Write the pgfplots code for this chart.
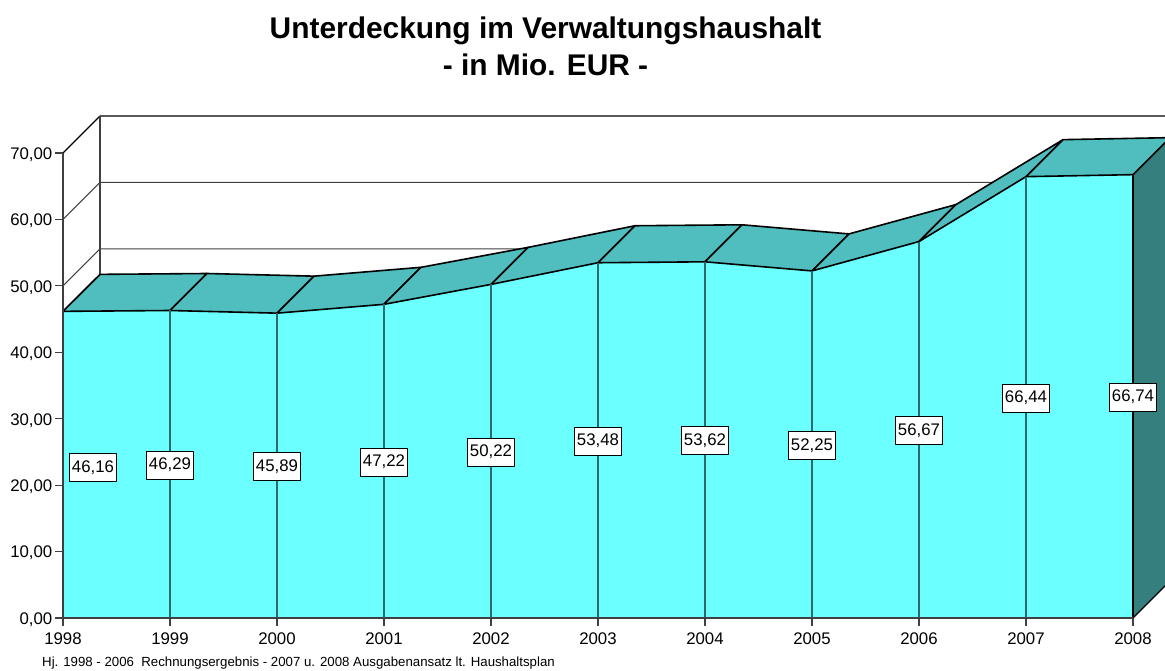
\documentclass[border=0pt]{standalone}
\usepackage{pgfplots}
\pgfplotsset{compat=1.18}
\usepackage{fontspec}
\setmainfont{Liberation Sans}
\definecolor{frontc}{HTML}{6CFFFF}
\definecolor{topc}{HTML}{50BEBE}
\definecolor{sidec}{HTML}{367F7F}
\definecolor{axc}{HTML}{404040}
\definecolor{yearc}{HTML}{2F6A6A}
\newcommand\lab{\fontsize{16.8}{18}\selectfont}
\begin{document}
\begin{tikzpicture}[x=1pt,y=1pt]
\useasboundingbox (0,0) rectangle (1165,671);
\begin{axis}[
  at={(63pt,53pt)},anchor=south west,
  scale only axis,width=1070pt,height=465pt,
  xmin=1998,xmax=2008,ymin=0,ymax=70,
  clip=false,axis on top=true,
  axis x line*=bottom,axis y line*=left,
  axis line style={-,draw=axc,line width=1.3pt},
  xtick={1998,1999,2000,2001,2002,2003,2004,2005,2006,2007,2008},
  xticklabels={1998,1999,2000,2001,2002,2003,2004,2005,2006,2007,2008},
  ytick={0,10,20,30,40,50,60,70},
  yticklabels={{0,00},{10,00},{20,00},{30,00},{40,00},{50,00},{60,00},{70,00}},
  tick align=outside,major tick length=8pt,
  tick style={draw=axc,line width=1.1pt},
  xticklabel style={font=\lab,inner sep=0pt,yshift=-6.5pt},
  yticklabel style={font=\lab,inner sep=0pt,xshift=-2.5pt,yshift=-1.5pt},
  every node near coord/.append style={anchor=center,font=\lab,fill=white,draw=black,line width=0.8pt,
     minimum width=46.5pt,minimum height=28pt,inner sep=0pt,text=black,yshift=-0.8pt},
]
% back wall
\addplot[draw=axc,line width=1.1pt] coordinates {(1998,50) (1998.346,55.57) (2008.346,55.57)};
\addplot[draw=axc,line width=1.1pt] coordinates {(1998,60) (1998.346,65.57) (2008.346,65.57)};
\addplot[draw=black,line width=1.2pt] coordinates {(1998,70) (1998.346,75.57) (2008.346,75.57)};
\addplot[draw=axc,line width=1.2pt] coordinates {(1998.346,5.57) (1998.346,75.57)};
% front
\addplot[fill=frontc,draw=none] coordinates {(1998,0) (1998,46.16) (1999,46.29) (2000,45.89) (2001,47.22) (2002,50.22) (2003,53.48) (2004,53.62) (2005,52.25) (2006,56.67) (2007,66.44) (2008,66.74) (2008,0)} --cycle;
% right side
\addplot[fill=sidec,draw=none] coordinates {(2008,0) (2008,66.74) (2008.346,72.31) (2008.346,5.57)} --cycle;
% top faces
\pgfplotsset{every axis plot post/.append style={line join=round}}
\addplot[fill=topc,draw=black,line width=1.6pt] coordinates {(1998,46.16) (1999,46.29) (1999.346,51.86) (1998.346,51.73)} --cycle;
\addplot[fill=topc,draw=black,line width=1.6pt] coordinates {(1999,46.29) (2000,45.89) (2000.346,51.46) (1999.346,51.86)} --cycle;
\addplot[fill=topc,draw=black,line width=1.6pt] coordinates {(2000,45.89) (2001,47.22) (2001.346,52.79) (2000.346,51.46)} --cycle;
\addplot[fill=topc,draw=black,line width=1.6pt] coordinates {(2001,47.22) (2002,50.22) (2002.346,55.79) (2001.346,52.79)} --cycle;
\addplot[fill=topc,draw=black,line width=1.6pt] coordinates {(2002,50.22) (2003,53.48) (2003.346,59.05) (2002.346,55.79)} --cycle;
\addplot[fill=topc,draw=black,line width=1.6pt] coordinates {(2003,53.48) (2004,53.62) (2004.346,59.19) (2003.346,59.05)} --cycle;
\addplot[fill=topc,draw=black,line width=1.6pt] coordinates {(2004,53.62) (2005,52.25) (2005.346,57.82) (2004.346,59.19)} --cycle;
\addplot[fill=topc,draw=black,line width=1.6pt] coordinates {(2005,52.25) (2006,56.67) (2006.346,62.24) (2005.346,57.82)} --cycle;
\addplot[fill=topc,draw=black,line width=1.6pt] coordinates {(2006,56.67) (2007,66.44) (2007.346,72.01) (2006.346,62.24)} --cycle;
\addplot[fill=topc,draw=black,line width=1.6pt] coordinates {(2007,66.44) (2008,66.74) (2008.346,72.31) (2007.346,72.01)} --cycle;
% year lines
\addplot[draw=yearc,line width=1.1pt] coordinates {(1999,0) (1999,46.29)};
\addplot[draw=yearc,line width=1.1pt] coordinates {(2000,0) (2000,45.89)};
\addplot[draw=yearc,line width=1.1pt] coordinates {(2001,0) (2001,47.22)};
\addplot[draw=yearc,line width=1.1pt] coordinates {(2002,0) (2002,50.22)};
\addplot[draw=yearc,line width=1.1pt] coordinates {(2003,0) (2003,53.48)};
\addplot[draw=yearc,line width=1.1pt] coordinates {(2004,0) (2004,53.62)};
\addplot[draw=yearc,line width=1.1pt] coordinates {(2005,0) (2005,52.25)};
\addplot[draw=yearc,line width=1.1pt] coordinates {(2006,0) (2006,56.67)};
\addplot[draw=yearc,line width=1.1pt] coordinates {(2007,0) (2007,66.44)};
\addplot[draw=black,line width=1.5pt] coordinates {(1998,0) (1998,46.16)};
\addplot[draw=black,line width=1.5pt] coordinates {(2008,0) (2008,66.74)};
\addplot[draw=black,line width=1.2pt] coordinates {(2008,0) (2008.346,5.57)};
% value labels
\addplot[draw=none,mark=none,nodes near coords,point meta=explicit symbolic] table[meta=l] {
x y l
1998.28 22.73 46,16
1999 23.145 46,29
2000 22.945 45,89
2001 23.61 47,22
2002 25.11 50,22
2003 26.74 53,48
2004 26.81 53,62
2005 26.125 52,25
2006 28.335 56,67
2007 33.22 66,44
2008 33.37 66,74
};
\end{axis}
\node[font=\fontsize{29.9}{36.5}\selectfont\bfseries,align=center] at (545.5,624.5) {Unterdeckung im Verwaltungshaushalt\\- in Mio. EUR -};
\node[font=\fontsize{13.25}{15}\selectfont,anchor=west,inner sep=0pt] at (42,8) {Hj. 1998 - 2006\ \ Rechnungsergebnis - 2007 u. 2008 Ausgabenansatz lt. Haushaltsplan};
\end{tikzpicture}
\end{document}
